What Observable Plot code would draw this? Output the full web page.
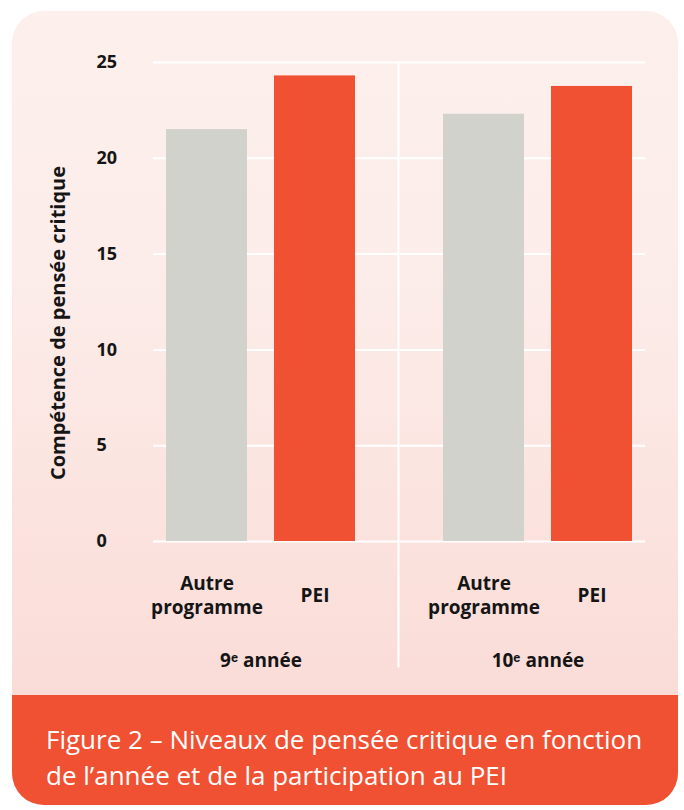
<!DOCTYPE html>
<html>
<head>
<meta charset="utf-8">
<script src="https://cdn.jsdelivr.net/npm/d3@7"></script>
<script src="https://cdn.jsdelivr.net/npm/@observablehq/plot@0.6"></script>
<style>
  html, body { margin: 0; padding: 0; background: #ffffff; }
  body { width: 684px; height: 810px; position: relative; overflow: hidden; }
  #card {
    position: absolute; left: 12px; top: 11px; width: 666px; height: 794px;
    border-radius: 32px; overflow: hidden;
    background: linear-gradient(to bottom, #fcefec 0px, #fcedea 250px, #fadcd7 684px);
  }
  #chart { position: absolute; left: 0; top: 0; width: 666px; height: 684px; }
  #caption {
    position: absolute; left: 0; top: 684px; width: 666px; height: 110px;
    background: #f05133; color: #ffffff; box-sizing: border-box;
    padding: 26px 0 0 34px;
    font-family: "Open Sans", sans-serif; font-weight: 400; font-size: 26px; line-height: 36px;
    white-space: nowrap;
  }
</style>
</head>
<body>
<div id="card">
  <div id="chart"></div>
  <div id="caption">Figure 2 – Niveaux de pensée critique en fonction<br>de l’année et de la participation au PEI</div>
</div>
<script>
// ---- data ----
const years = ["9e", "10e"];
const yearLabels = ["9ᵉ année", "10ᵉ année"];
const programs = ["Autre programme", "PEI"];
const programLabels = ["Autre\nprogramme", "PEI"];
const autreValues = [21.5, 22.3];
const peiValues = [24.3, 23.75];
const yTicks = [0, 5, 10, 15, 20, 25];
const yLabel = "Compétence de pensée critique";
const programColors = ["#d2d2cc", "#f05133"];

const rows = [];
years.forEach((yr, i) => {
  rows.push({year: yr, program: programs[0], value: autreValues[i]});
  rows.push({year: yr, program: programs[1], value: peiValues[i]});
});
const gridFirst = yTicks.map(v => ({year: years[0], v}));
const gridSecond = yTicks.map(v => ({year: years[1], v}));

const chart = Plot.plot({
  width: 666,
  height: 684,
  marginTop: 51,
  marginBottom: 154,
  marginLeft: 154,
  marginRight: 46,
  style: {background: "transparent", fontFamily: "'Open Sans', sans-serif", color: "#151515", overflow: "visible"},
  fx: {domain: years, paddingInner: 0.318, paddingOuter: 0, label: null},
  x: {domain: programs, paddingInner: 0.25, paddingOuter: 0, label: null},
  y: {domain: [0, 25], label: null},
  color: {domain: programs, range: programColors},
  marks: [
    Plot.ruleY(gridFirst, {fx: "year", y: "v", stroke: "#ffffff", strokeWidth: 2, insetLeft: -13, insetRight: -44}),
    Plot.ruleY(gridSecond, {fx: "year", y: "v", stroke: "#ffffff", strokeWidth: 2, insetLeft: -45, insetRight: -13}),
    Plot.frame({anchor: "left", facetAnchor: "right", insetLeft: -45, insetBottom: -125, stroke: "#ffffff", strokeWidth: 2}),
    Plot.barY(rows, {fx: "year", x: "program", y: "value", fill: "program"}),
    Plot.axisY({anchor: "left", ticks: yTicks, tickSize: 0, tickPadding: 0, textAnchor: "start", dx: -70, label: null, fontSize: 18, fontWeight: 700}),
    Plot.axisX({anchor: "bottom", tickSize: 0, tickPadding: 0, lineAnchor: "middle", dy: 53, lineHeight: 1.25, label: null,
      tickFormat: d => programLabels[programs.indexOf(d)], fontSize: 19, fontWeight: 700}),
    Plot.axisFx({anchor: "bottom", tickSize: 0, tickPadding: 0, lineAnchor: "middle", dy: 119, label: null,
      tickFormat: d => yearLabels[years.indexOf(d)], fontSize: 19, fontWeight: 700}),
    Plot.text([yLabel], {text: d => d, frameAnchor: "left", textAnchor: "middle", lineAnchor: "middle", rotate: -90, dx: -108, dy: 21, facetAnchor: "left", fontSize: 20, fontWeight: 700})
  ]
});
document.getElementById("chart").appendChild(chart);
</script>
</body>
</html>
